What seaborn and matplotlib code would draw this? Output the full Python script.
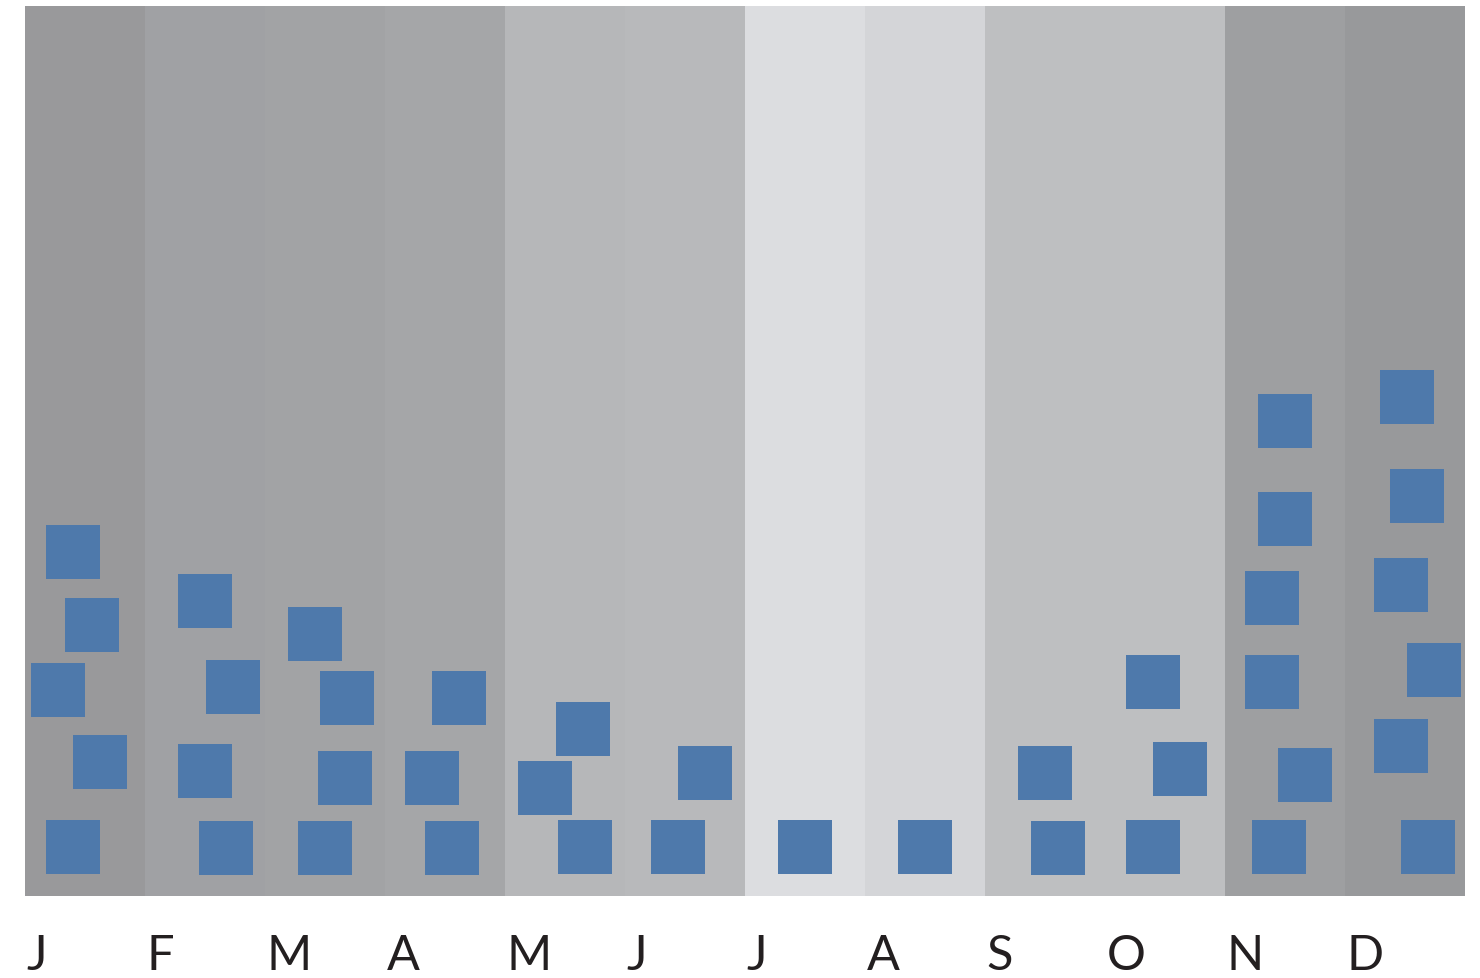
import pandas as pd
import seaborn as sns
import matplotlib.pyplot as plt

month_labels = ["J", "F", "M", "A", "M", "J", "J", "A", "S", "O", "N", "D"]
band_colors = ["#99999b", "#a0a1a4", "#a2a3a5", "#a5a6a8", "#b6b7b9", "#b8b9bb",
               "#dcdde0", "#d4d5d8", "#bebfc1", "#bebfc1", "#9e9fa1", "#98999b"]

# one list per month: position inside the month band and height of each square
x_offsets = [
    [0.40, 0.56, 0.275, 0.625, 0.40],
    [0.50, 0.73, 0.50, 0.675],
    [0.417, 0.683, 0.667, 0.50],
    [0.617, 0.392, 0.558],
    [0.65, 0.333, 0.667],
    [0.667, 0.442],
    [0.50],
    [0.50],
    [0.50, 0.608],
    [0.40, 0.625, 0.40],
    [0.50, 0.50, 0.392, 0.392, 0.667, 0.45],
    [0.517, 0.60, 0.467, 0.742, 0.467, 0.692],
]
y_values = [
    [38.7, 30.4, 23.2, 15.1, 5.5],
    [33.1, 23.5, 14.1, 5.4],
    [29.4, 22.2, 13.3, 5.4],
    [22.2, 13.3, 5.4],
    [18.8, 12.1, 5.5],
    [13.8, 5.5],
    [5.5],
    [5.5],
    [13.8, 5.4],
    [24.1, 14.3, 5.5],
    [53.4, 42.4, 33.5, 24.0, 13.6, 5.5],
    [56.1, 44.9, 35.0, 25.4, 16.8, 5.5],
]

rows = []
for m in range(12):
    for xo, yv in zip(x_offsets[m], y_values[m]):
        rows.append({"month": m, "x": m + xo, "y": yv})
df = pd.DataFrame(rows)

sns.set_theme(style="white")
fig = plt.figure(figsize=(14.8, 9.79), dpi=100)
ax = fig.add_axes([25 / 1480, 1 - 897 / 979, 1440 / 1480, 890 / 979])

for m in range(12):
    ax.axvspan(m, m + 1, color=band_colors[m], lw=0, zorder=0)

sns.scatterplot(data=df, x="x", y="y", marker="s", s=1520, color="#4e79ab",
                linewidth=0, ax=ax, zorder=3)

ax.set_xlim(0, 12)
ax.set_ylim(0, 100)
ax.set_xticks([])
ax.set_yticks([])
ax.set_xlabel("")
ax.set_ylabel("")
for s in ax.spines.values():
    s.set_visible(False)

for m, lab in enumerate(month_labels):
    ax.text(m + 0.015, -8.2, lab, ha="left", va="baseline", fontsize=35,
            family=["Lato", "DejaVu Sans"], fontweight="normal", color="#231f20",
            transform=ax.transData, clip_on=False)

fig.savefig("out.png", dpi=100)
